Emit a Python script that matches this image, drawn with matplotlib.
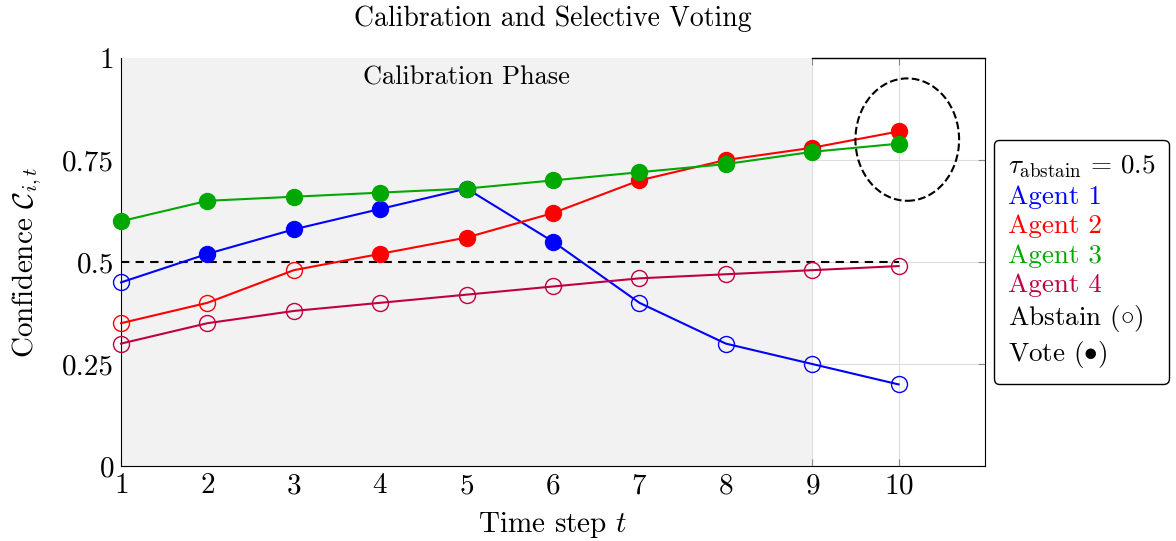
import numpy as np
import matplotlib
matplotlib.use("Agg")
from matplotlib import pyplot as plt
from matplotlib.patches import Ellipse
from matplotlib.lines import Line2D

plt.rcParams['font.family'] = 'serif'
plt.rcParams['font.serif'] = ['cmr10']
plt.rcParams['mathtext.fontset'] = 'cm'
plt.rcParams['axes.formatter.use_mathtext'] = True

# data
t = np.arange(1, 11)
agent1 = [0.45, 0.52, 0.58, 0.63, 0.68, 0.55, 0.40, 0.30, 0.25, 0.20]
agent2 = [0.35, 0.40, 0.48, 0.52, 0.56, 0.62, 0.70, 0.75, 0.78, 0.82]
agent3 = [0.60, 0.65, 0.66, 0.67, 0.68, 0.70, 0.72, 0.74, 0.77, 0.79]
agent4 = [0.30, 0.35, 0.38, 0.40, 0.42, 0.44, 0.46, 0.47, 0.48, 0.49]
tau = 0.5

names = ['Agent 1', 'Agent 2', 'Agent 3', 'Agent 4']
colors = ['#0000FF', '#FF0000', '#00A800', '#BF0040']
series = [agent1, agent2, agent3, agent4]

fig = plt.figure(figsize=(11.76, 5.41), dpi=100)
ax = fig.add_axes([0.1029, 0.1386, 0.7347, 0.7542])
ax.set_axisbelow(True)

# calibration phase shading
ax.axvspan(1, 9, color='#F2F2F2', zorder=1, lw=0)
ax.text(5, 0.953, 'Calibration Phase', ha='center', va='center', fontsize=19, zorder=3)

for y, c in zip(series, colors):
    y = np.array(y)
    ax.plot(t, y, color=c, lw=1.5, zorder=4, clip_on=False)
    vote = y > tau
    ax.plot(t[vote], y[vote], 'o', color=c, ms=11.5, zorder=5, clip_on=False)
    ax.plot(t[~vote], y[~vote], 'o', mfc='none', mec=c, mew=1.0, ms=11.5,
            zorder=5, clip_on=False)

ax.plot([1, 10], [tau, tau], '--', color='black', lw=1.5, dashes=(4, 3), zorder=3)

ax.add_patch(Ellipse((10.1, 0.8), 1.2, 0.3, fill=False, ls='--', lw=1.5,
                     ec='black', zorder=6))

ax.set_xlim(1, 11)
ax.set_ylim(0, 1)
ax.set_xticks(t)
ax.set_yticks([0, 0.25, 0.5, 0.75, 1])
ax.set_yticklabels(['0', '0.25', '0.5', '0.75', '1'])
ax.tick_params(direction='in', top=True, right=True, length=5, color='#888888',
               labelsize=21, pad=5)
ax.grid(True, color='#DDDDDD', lw=0.8)
ax.spines['top'].set_visible(False)
ax.plot([9, 11], [1, 1], color='black', lw=1.0, clip_on=False, zorder=3)

ax.set_xlabel('Time step $t$', fontsize=21, labelpad=8)
ax.set_ylabel(r'Confidence $\mathcal{C}_{i,t}$', fontsize=21, labelpad=13)
ax.set_title('Calibration and Selective Voting', fontsize=20, pad=23)

labels = [r'$\tau_{\mathrm{abstain}}\,=\,0.5$'] + names + [r'Abstain ($\circ$)', r'Vote ($\bullet$)']
handles = [Line2D([], [], linestyle='none') for _ in labels]
leg = ax.legend(handles, labels, loc='center left', bbox_to_anchor=(1.0104, 0.501),
                handlelength=0, handletextpad=0, fontsize=19.5, frameon=True,
                fancybox=True, edgecolor='black', framealpha=1, labelspacing=0.2,
                borderpad=0.5, borderaxespad=0)
leg.get_frame().set_linewidth(1.0)
for txt, c in zip(leg.get_texts(), ['black'] + colors + ['black', 'black']):
    txt.set_color(c)

fig.savefig('out.png', dpi=100)
